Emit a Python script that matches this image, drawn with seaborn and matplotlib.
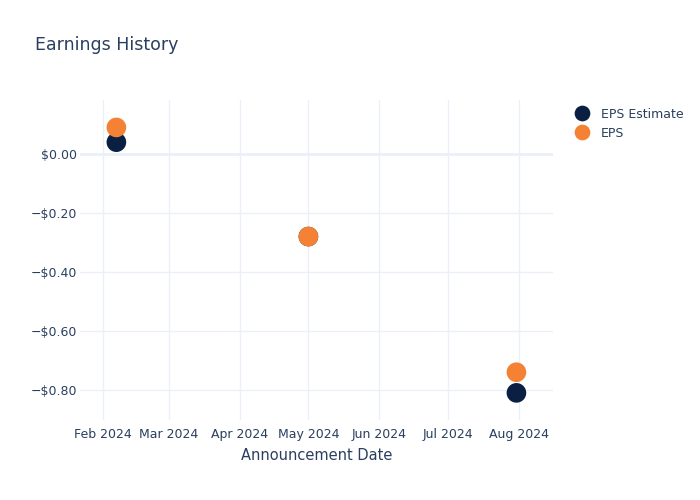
import matplotlib
matplotlib.use("Agg")
import matplotlib.pyplot as plt
import matplotlib.dates as mdates
import matplotlib.ticker as mticker
import seaborn as sns
import pandas as pd

dates = ["2024-02-07", "2024-05-01", "2024-07-31"]
eps_estimate = [0.04, -0.28, -0.81]
eps_actual = [0.09, -0.28, -0.74]
series_names = ["EPS Estimate", "EPS"]
colors = ["#0b1f42", "#f58134"]

df = pd.DataFrame({
    "date": pd.to_datetime(dates * 2),
    "value": eps_estimate + eps_actual,
    "series": [series_names[0]] * 3 + [series_names[1]] * 3,
})

sns.set_theme(style="white")
plt.rcParams['font.family'] = ['DejaVu Sans']
text_color = "#2a3f5f"
grid_color = "#ebf0f8"

fig = plt.figure(figsize=(7, 5), dpi=100)
ax = fig.add_axes([0.114, 0.16, 0.676, 0.64])

sns.scatterplot(data=df, x="date", y="value", hue="series",
                palette=dict(zip(series_names, colors)), s=200,
                edgecolor="none", linewidth=0, ax=ax, zorder=3, legend=True)

ax.set_xlim(pd.Timestamp("2024-01-22"), pd.Timestamp("2024-08-16"))
ax.set_ylim(-0.902, 0.183)
ax.xaxis.set_major_locator(mdates.MonthLocator())
ax.xaxis.set_major_formatter(mdates.DateFormatter("%b %Y"))
ax.yaxis.set_major_locator(mticker.MultipleLocator(0.2))

def fmt(v, pos):
    if abs(v) < 1e-9:
        return "$0.00"
    s = f"${abs(v):.2f}"
    return ("\u2212" + s) if v < 0 else s
ax.yaxis.set_major_formatter(mticker.FuncFormatter(fmt))

ax.grid(True, color=grid_color, linewidth=1, zorder=0)
ax.axhline(0, color=grid_color, linewidth=2, zorder=1)
for s in ax.spines.values():
    s.set_visible(False)
ax.tick_params(axis="both", colors=text_color, labelsize=9, length=0)
ax.tick_params(axis="y", pad=2)
ax.tick_params(axis="x", pad=6)
ax.set_xlabel("Announcement Date", color=text_color, fontsize=10.5, labelpad=5)
ax.set_ylabel("")

fig.text(0.05, 0.911, "Earnings History", color=text_color, fontsize=12.5, va="center")

leg = ax.legend(loc="upper left", bbox_to_anchor=(1.02, 1.0), frameon=False,
                fontsize=9, labelcolor=text_color, handletextpad=0.5,
                markerscale=0.8, borderaxespad=0.2, labelspacing=0.5)

fig.savefig("out.png", dpi=100)
